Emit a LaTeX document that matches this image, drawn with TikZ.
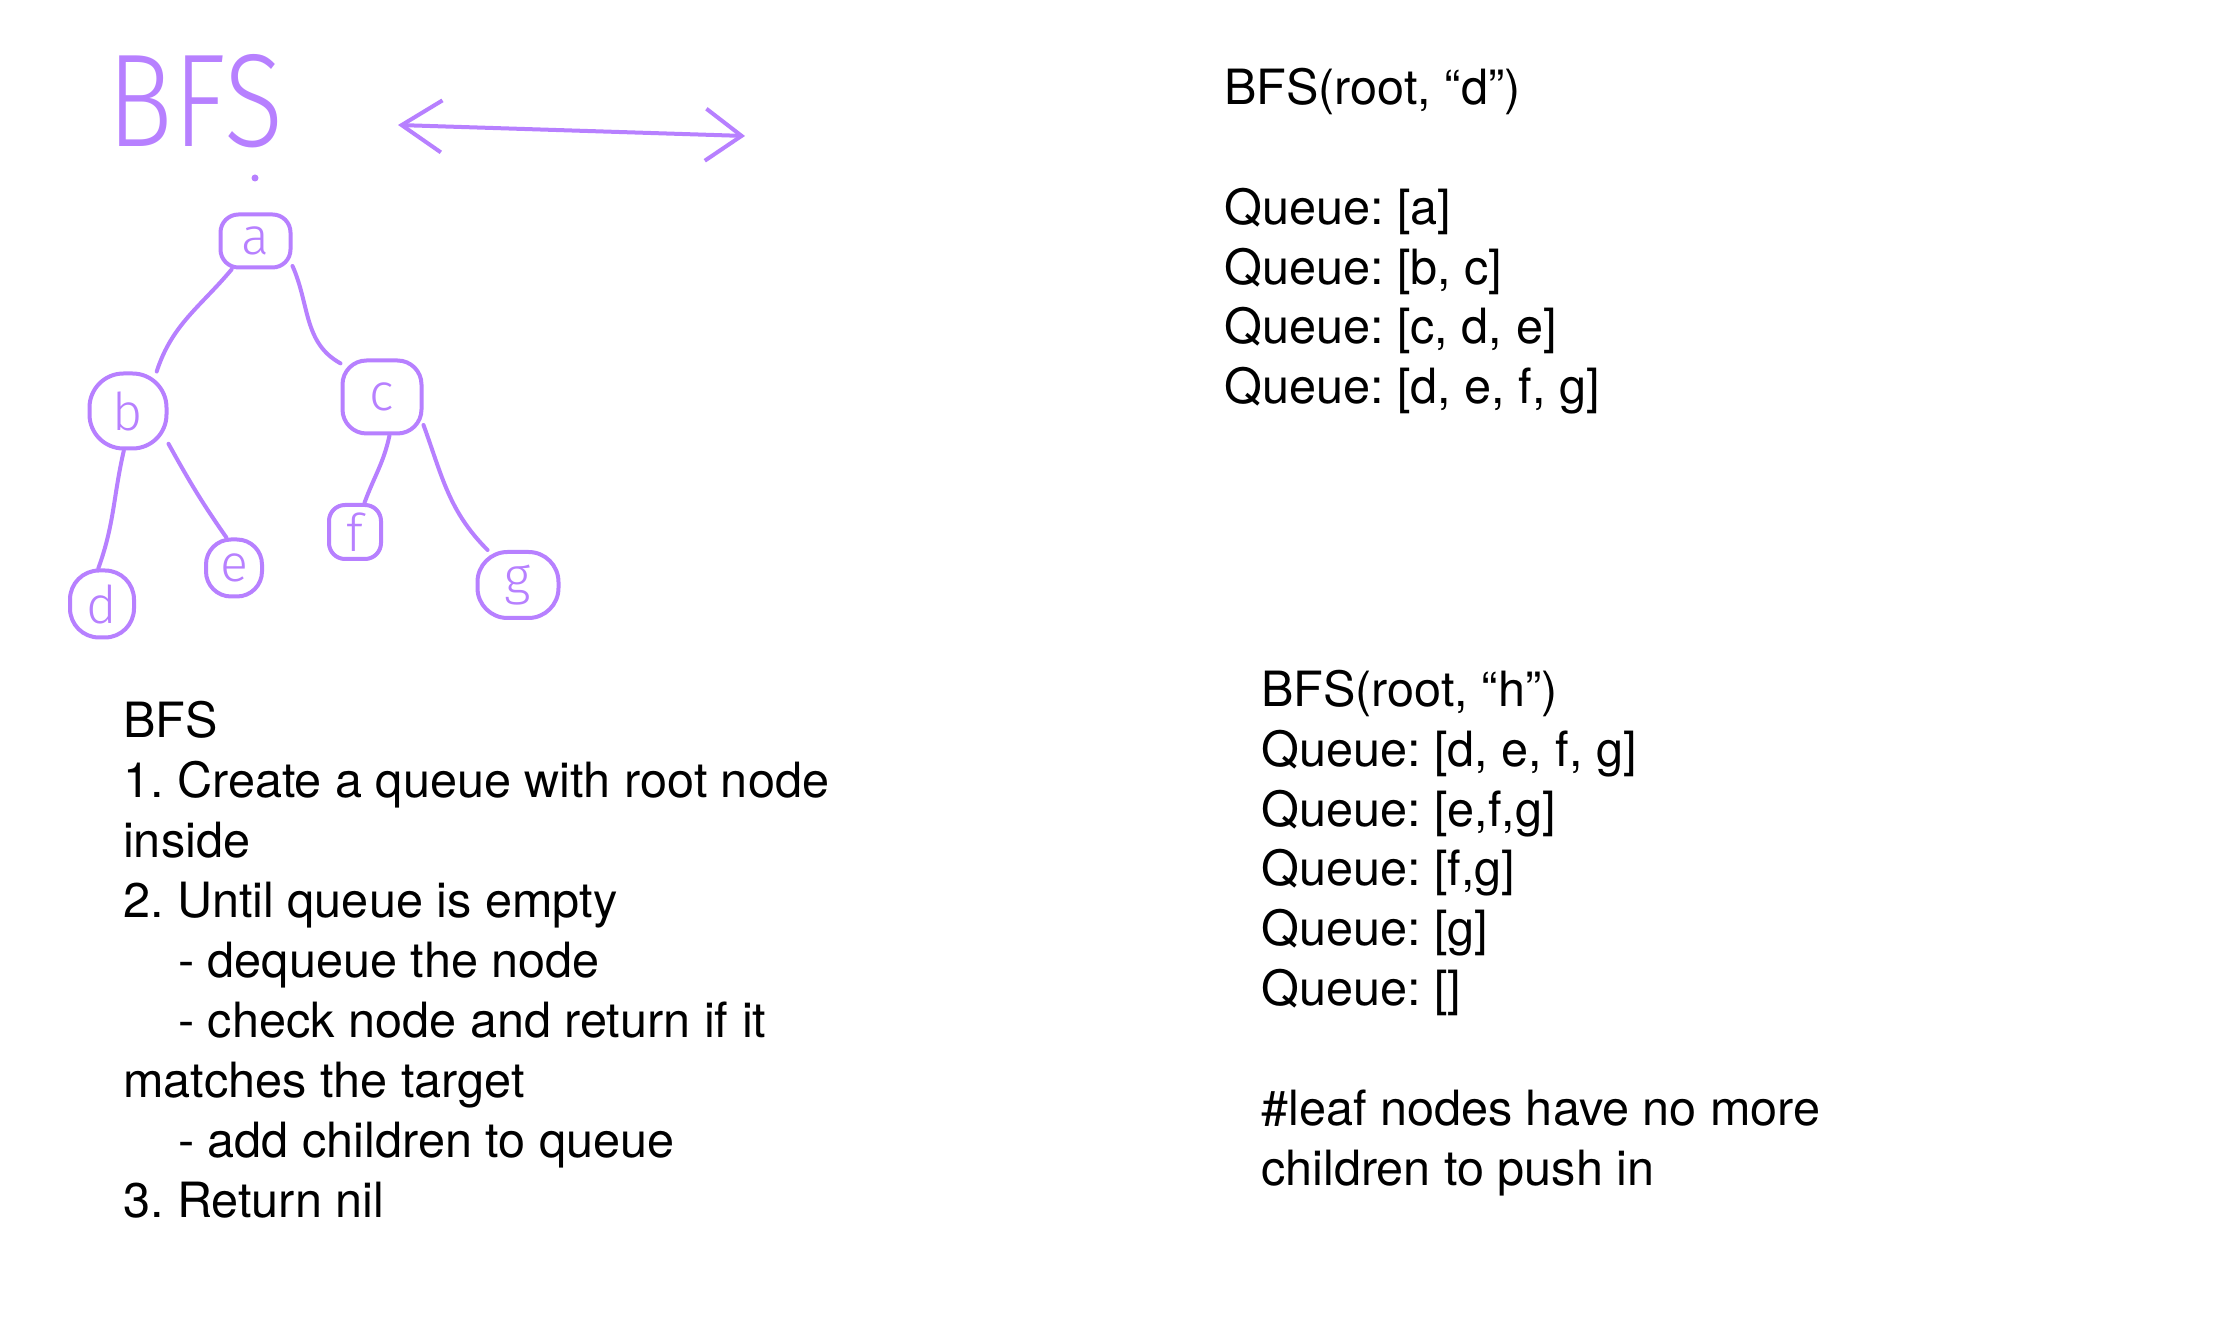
\documentclass[tikz,border=0pt]{standalone}
\usepackage{graphicx}
\usepackage{fontspec}
\setmainfont{TeX Gyre Heros}
\newfontfamily\handfont{Fira Sans Light}
\usetikzlibrary{arrows.meta}
\definecolor{pen}{RGB}{183,128,255}
\frenchspacing
\begin{document}
\begin{tikzpicture}[x=1pt,y=1pt,
  txt/.style={anchor=base west, inner sep=0pt, font=\fontsize{48.6}{58}\selectfont},
  hnode/.style={draw=pen, line width=4pt, rectangle, inner sep=0pt, text=pen,
    font=\handfont\fontsize{52}{52}\selectfont},
  link/.style={draw=pen, line width=4pt, line cap=round, line join=round},
]
\fill[white] (0,0) rectangle (2216,1342);
\useasboundingbox (0,0) rectangle (2216,1342);

% handwritten title and arrow
\node[inner sep=0pt, text=pen] (title) at (195.5,1240.5) {\resizebox{175pt}{92pt}{\handfont BFS}};
\coordinate (arrL) at (398,1217);
\coordinate (arrR) at (745,1206);
\draw[link, {Straight Barb[length=40pt,width=52pt]}-{Straight Barb[length=36pt,width=52pt]}] (arrL) -- (arrR);
\fill[pen] (255,1164) circle (3.5);

% tree
\node[hnode, minimum width=70pt, minimum height=53pt, rounded corners=18pt] (a) at (255.5,1101) {a};
\node[hnode, minimum width=77pt, minimum height=75pt, rounded corners=34pt] (b) at (128,931) {b};
\node[hnode, minimum width=79pt, minimum height=73pt, rounded corners=24pt] (c) at (382,945) {c};
\node[hnode, minimum width=64pt, minimum height=67pt, rounded corners=29pt] (d) at (102,738) {d};
\node[hnode, minimum width=56pt, minimum height=57pt, rounded corners=25pt] (e) at (234,774) {e};
\node[hnode, minimum width=52pt, minimum height=54pt, rounded corners=16pt] (f) at (355,810) {f};
\node[hnode, minimum width=81pt, minimum height=66pt, rounded corners=30pt] (g) at (518,757) {g};

\draw[link] (a.230) to[out=230,in=72] (b.54);
\draw[link] (a.326) to[out=-66,in=151] (c.141);
\draw[link] (b.264) to[out=257,in=70] (d.96);
\draw[link] (b.321) to[out=-61,in=125] (e.104);
\draw[link] (c.281) to[out=258,in=70] (f.72);
\draw[link] (c.326) to[out=-70,in=135] (g.131);

% top right text
\node[txt] (tr1) at (1224,1237) {BFS(root, “d”)};
\node[txt] (tr2) at (1224,1117) {Queue: [a]};
\node[txt] (tr3) at (1224,1057.5) {Queue: [b, c]};
\node[txt] (tr4) at (1224,998) {Queue: [c, d, e]};
\node[txt] (tr5) at (1224,938.5) {Queue: [d, e, f, g]};

% bottom right text
\node[txt] (br1) at (1261,635.4) {BFS(root, “h”)};
\node[txt] (br2) at (1261,575.6) {Queue: [d, e, f, g]};
\node[txt] (br3) at (1261,515.8) {Queue: [e,f,g]};
\node[txt] (br4) at (1261,456) {Queue: [f,g]};
\node[txt] (br5) at (1261,396.2) {Queue: [g]};
\node[txt] (br6) at (1261,336.4) {Queue: []};
\node[txt] (br7) at (1261,216.8) {\#leaf nodes have no more};
\node[txt] (br8) at (1261,157) {children to push in};

% left text
\node[txt] (l1) at (123,604.3) {BFS};
\node[txt] (l2) at (123,544.3) {1. Create a queue with root node};
\node[txt] (l3) at (123,484.3) {inside};
\node[txt] (l4) at (123,424.3) {2. Until queue is empty};
\node[txt] (l5) at (123,364.3) {\hspace*{55pt}- dequeue the node};
\node[txt] (l6) at (123,304.3) {\hspace*{55pt}- check node and return if it};
\node[txt] (l7) at (123,244.3) {matches the target};
\node[txt] (l8) at (123,184.3) {\hspace*{55pt}- add children to queue};
\node[txt] (l9) at (123,124.3) {3. Return nil};
\end{tikzpicture}
\end{document}
